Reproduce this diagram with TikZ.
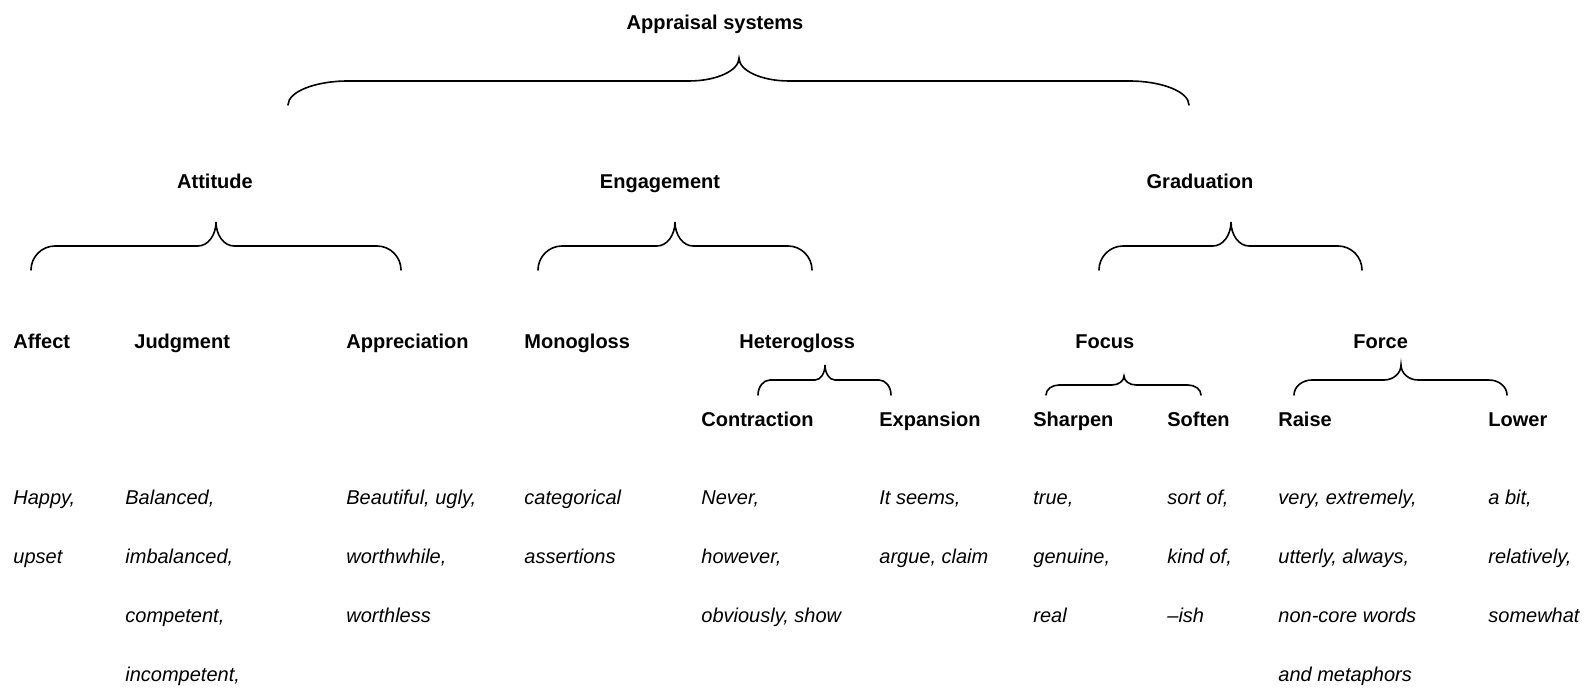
\documentclass[tikz,border=0pt]{standalone}
\usepackage{fontspec}
\setmainfont{Liberation Sans}
\usetikzlibrary{calc}
% brace opening downwards: left x, right x, tip x, tip y, bar y, end y, end curl, tip curl
\newcommand{\sysbrace}[8]{%
  \draw[brace] ({#1},{#6}) .. controls ({#1},{#6-0.55*(#6-#5)}) and ({#1+0.45*#7},{#5}) .. ({#1+#7},{#5})
    -- ({#3-#8},{#5}) .. controls ({#3-0.45*#8},{#5}) and ({#3},{#5-0.45*(#5-#4)}) .. ({#3},{#4})
    .. controls ({#3},{#5-0.45*(#5-#4)}) and ({#3+0.45*#8},{#5}) .. ({#3+#8},{#5})
    -- ({#2-#7},{#5}) .. controls ({#2-0.45*#7},{#5}) and ({#2},{#6-0.55*(#6-#5)}) .. ({#2},{#6});}
% one column of example words, one line every 59 units below the given point
\newcommand{\examples}[3]{%
  \foreach \w [count=\i from 0] in {#3}
    \node[words] (#1-\i) at ($ #2 + (0,59*\i) $) {\w};}

\begin{document}
\begin{tikzpicture}[x=0.5pt,y=-0.5pt,
                    brace/.style={line width=0.8pt,line cap=round},
                    head/.style={font=\bfseries,inner sep=0pt,anchor=base west},
                    words/.style={font=\itshape,inner sep=0pt,anchor=base west}]
\useasboundingbox (0,0) rectangle (1587,689);
%
\node[head,anchor=base] (sys)  at (715,30)  {Appraisal systems};
\node[head,anchor=base] (att)  at (215,189) {Attitude};
\node[head,anchor=base] (eng)  at (660,189) {Engagement};
\node[head,anchor=base] (grad) at (1200,189) {Graduation};
%
\sysbrace{288}{1189}{739}{58}{81}{105}{60}{50}
\sysbrace{31}{401}{216}{222}{246}{270}{24}{18}
\sysbrace{538}{812}{675}{222}{246}{270}{24}{18}
\sysbrace{1099}{1362}{1231}{222}{246}{270}{24}{18}
%
\node[head] (aff)  at (13,349)   {Affect};
\node[head] (jud)  at (134,349)  {Judgment};
\node[head] (app)  at (346,349)  {Appreciation};
\node[head] (mono) at (524,349)  {Monogloss};
\node[head] (het)  at (739,349)  {Heterogloss};
\node[head] (foc)  at (1075,349) {Focus};
\node[head] (frc)  at (1353,349) {Force};
%
\sysbrace{758}{891}{825}{365}{380}{395}{12}{10}
\sysbrace{1046}{1201}{1124}{376}{385}{395}{13}{12}
\sysbrace{1294}{1507}{1401}{365}{380}{395}{18}{17}
%
\node[head] (con) at (701,427)  {Contraction};
\node[head] (exp) at (879,427)  {Expansion};
\node[head] (shp) at (1033,427) {Sharpen};
\node[head] (sft) at (1167,427) {Soften};
\node[head] (rai) at (1278,427) {Raise};
\node[head] (low) at (1488,427) {Lower};
%
\examples{aff-ex}{(aff.base west) + (0,156)}{{Happy,},upset}
\examples{jud-ex}{(jud.base west) + (-9,156)}{{Balanced,},{imbalanced,},{competent,},{incompetent,}}
\examples{app-ex}{(app.base west) + (0,156)}{{Beautiful, ugly,},{worthwhile,},worthless}
\examples{mono-ex}{(mono.base west) + (0,156)}{categorical,assertions}
\examples{con-ex}{(con.base west) + (0,78)}{{Never,},{however,},{obviously, show}}
\examples{exp-ex}{(exp.base west) + (0,78)}{{It seems,},{argue, claim}}
\examples{shp-ex}{(shp.base west) + (0,78)}{{true,},{genuine,},real}
\examples{sft-ex}{(sft.base west) + (0,78)}{{sort of,},{kind of,},--ish}
\examples{rai-ex}{(rai.base west) + (0,78)}{{very, extremely,},{utterly, always,},{non-core words},{and metaphors}}
\examples{low-ex}{(low.base west) + (0,78)}{{a bit,},{relatively,},somewhat}
\end{tikzpicture}
\end{document}
